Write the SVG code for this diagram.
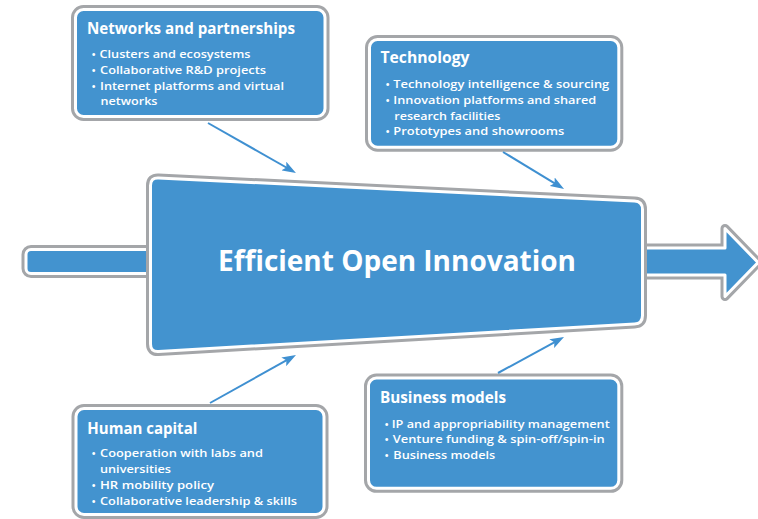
<svg xmlns="http://www.w3.org/2000/svg" xmlns:xlink="http://www.w3.org/1999/xlink" width="758" height="519" viewBox="0 0 758 519">
<style>
.edge{fill:none;stroke:#A4A6A9;stroke-width:9;stroke-linejoin:round}
.body{fill:#4393CF;stroke:#FFFFFF;stroke-width:3;stroke-linejoin:round}
.t{font-family:"Open Sans","Liberation Sans",sans-serif;fill:#FFFFFF}
.title{font-weight:700;font-size:15.5px}
.item{font-weight:600;font-size:11.4px}
.main{font-weight:700;font-size:29px}
.conn{fill:none;stroke:#3F90D1;stroke-width:2}
</style>
<defs>
<marker id="ah" viewBox="0 0 14 10" refX="6" refY="5" markerWidth="14" markerHeight="10" markerUnits="userSpaceOnUse" orient="auto">
<path d="M0,0 L14,5 L0,10 L3,5 Z" fill="#3F90D1"/>
</marker>
<rect id="s-bar" x="26" y="249.5" width="134" height="24" rx="5"/>
<path id="s-arrow" d="M630,248 H725 V228.5 L758,262.5 L725,296.5 V275 H630 Z"/>
<path id="s-center" d="M150.5,185.5 Q150.5,177.5 158.5,177.9 L634.5,201.1 Q642.5,201.5 642.5,209.5 L642.5,315.5 Q642.5,323.5 634.5,324 L158.5,351.5 Q150.5,352 150.5,344 Z"/>
<rect id="s-net" x="75.5" y="9.5" width="249.5" height="107" rx="8"/>
<rect id="s-tech" x="369.5" y="39.5" width="249.3" height="107.7" rx="8"/>
<rect id="s-hum" x="76" y="408.5" width="248" height="106" rx="8"/>
<rect id="s-bus" x="368.5" y="378" width="250.3" height="110.3" rx="8"/>
</defs>

<g id="input-bar">
<use xlink:href="#s-bar" class="edge"/>
<use xlink:href="#s-bar" class="body"/>
</g>
<g id="output-arrow">
<use xlink:href="#s-arrow" class="edge"/>
<use xlink:href="#s-arrow" class="body"/>
</g>
<g id="efficient-open-innovation">
<use xlink:href="#s-center" class="edge"/>
<use xlink:href="#s-center" class="body"/>
<text class="t main" x="218" y="271" textLength="358" lengthAdjust="spacingAndGlyphs">Efficient Open Innovation</text>
</g>

<g id="networks">
<use xlink:href="#s-net" class="edge"/>
<use xlink:href="#s-net" class="body"/>
<text class="t title" x="87" y="34" textLength="208" lengthAdjust="spacingAndGlyphs">Networks and partnerships</text>
<g class="t item">
<text x="91.5" y="58.3">•</text><text x="99.5" y="58.3" textLength="151" lengthAdjust="spacingAndGlyphs">Clusters and ecosystems</text>
<text x="91.5" y="74">•</text><text x="100" y="74" textLength="166" lengthAdjust="spacingAndGlyphs">Collaborative R&amp;D projects</text>
<text x="91.5" y="90">•</text><text x="100" y="90" textLength="184" lengthAdjust="spacingAndGlyphs">Internet platforms and virtual</text>
<text x="100.5" y="105.3" textLength="57" lengthAdjust="spacingAndGlyphs">networks</text>
</g>
</g>

<g id="technology">
<use xlink:href="#s-tech" class="edge"/>
<use xlink:href="#s-tech" class="body"/>
<text class="t title" x="380.5" y="63.3" textLength="89" lengthAdjust="spacingAndGlyphs">Technology</text>
<g class="t item">
<text x="385.5" y="88.3">•</text><text x="393.3" y="88.3" textLength="216" lengthAdjust="spacingAndGlyphs">Technology intelligence &amp; sourcing</text>
<text x="385.5" y="104">•</text><text x="393.3" y="104" textLength="203" lengthAdjust="spacingAndGlyphs">Innovation platforms and shared</text>
<text x="394.3" y="119.5" textLength="106" lengthAdjust="spacingAndGlyphs">research facilities</text>
<text x="385.5" y="135">•</text><text x="393.3" y="135" textLength="171" lengthAdjust="spacingAndGlyphs">Prototypes and showrooms</text>
</g>
</g>

<g id="human-capital">
<use xlink:href="#s-hum" class="edge"/>
<use xlink:href="#s-hum" class="body"/>
<text class="t title" x="87.3" y="434.3" textLength="110" lengthAdjust="spacingAndGlyphs">Human capital</text>
<g class="t item">
<text x="91.5" y="456.7">•</text><text x="100" y="456.7" textLength="163" lengthAdjust="spacingAndGlyphs">Cooperation with labs and</text>
<text x="100" y="472.5" textLength="71" lengthAdjust="spacingAndGlyphs">universities</text>
<text x="91.5" y="488.7">•</text><text x="100" y="488.7" textLength="114" lengthAdjust="spacingAndGlyphs">HR mobility policy</text>
<text x="91.5" y="504.5">•</text><text x="100" y="504.5" textLength="197" lengthAdjust="spacingAndGlyphs">Collaborative leadership &amp; skills</text>
</g>
</g>

<g id="business-models">
<use xlink:href="#s-bus" class="edge"/>
<use xlink:href="#s-bus" class="body"/>
<text class="t title" x="380" y="402.7" textLength="126" lengthAdjust="spacingAndGlyphs">Business models</text>
<g class="t item">
<text x="384.5" y="427.5">•</text><text x="391.7" y="427.5" textLength="218" lengthAdjust="spacingAndGlyphs">IP and appropriability management</text>
<text x="384.5" y="443.3">•</text><text x="392.7" y="443.3" textLength="212" lengthAdjust="spacingAndGlyphs">Venture funding &amp; spin-off/spin-in</text>
<text x="384.5" y="459">•</text><text x="393.3" y="459" textLength="102" lengthAdjust="spacingAndGlyphs">Business models</text>
</g>
</g>

<g id="connectors">
<line class="conn" x1="208" y1="123" x2="289" y2="169" marker-end="url(#ah)"/>
<line class="conn" x1="503" y1="152" x2="557.2" y2="184.8" marker-end="url(#ah)"/>
<line class="conn" x1="210" y1="403" x2="289" y2="358.9" marker-end="url(#ah)"/>
<line class="conn" x1="498" y1="373" x2="557" y2="340.8" marker-end="url(#ah)"/>
</g>
</svg>
